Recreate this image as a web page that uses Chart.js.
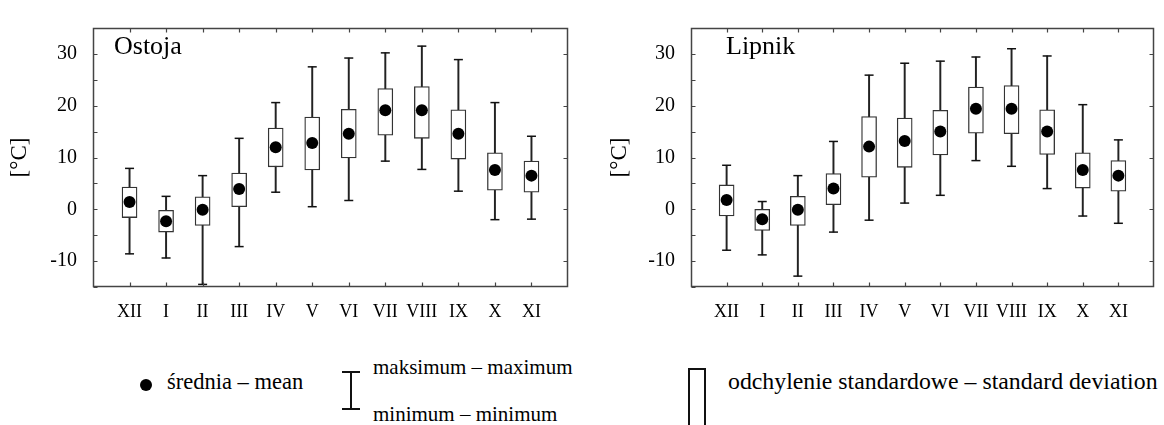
<!DOCTYPE html>
<html>
<head>
<meta charset="utf-8">
<script src="https://cdn.jsdelivr.net/npm/chart.js@4.4.1/dist/chart.umd.min.js"></script>
<style>
    html, body { margin: 0; padding: 0; background: #fff; overflow: hidden; font-family: 'Liberation Serif', serif; }
    #wrap { position: relative; width: 1164px; height: 425px; overflow: hidden; }
    .panel { position: absolute; top: 0; }
    .lg { position: absolute; font-size: 21px; line-height: 1; color: #000; white-space: nowrap; }
</style>
</head>
<body>
<div id="wrap">
    <canvas id="ostoja" class="panel" width="582" height="340" style="left:0"></canvas>
    <canvas id="lipnik" class="panel" width="586" height="340" style="left:582px"></canvas>

    <!-- legend -->
    <div style="position:absolute;left:140px;top:379px;width:12px;height:12px;border-radius:50%;background:#000"></div>
    <div class="lg" style="left:167px;top:371px;font-size:22.5px;font-family:'Liberation Serif',serif">średnia – mean</div>

    <div style="position:absolute;left:350px;top:372px;width:2px;height:37px;background:#111"></div>
    <div style="position:absolute;left:342px;top:371px;width:18px;height:2px;background:#111"></div>
    <div style="position:absolute;left:342px;top:408px;width:18px;height:2px;background:#111"></div>
    <div class="lg" style="left:373px;top:357px;font-family:'Liberation Serif',serif">maksimum – maximum</div>
    <div class="lg" style="left:373px;top:404px;font-family:'Liberation Serif',serif">minimum – minimum</div>

    <div style="position:absolute;left:688px;top:368px;width:14px;height:70px;border:2px solid #111"></div>
    <div class="lg" style="left:728px;top:370px;font-size:23.8px;font-family:'Liberation Serif',serif">odchylenie standardowe – standard deviation</div>
</div>

<script>
    'use strict';

    var months = ['XII', 'I', 'II', 'III', 'IV', 'V', 'VI', 'VII', 'VIII', 'IX', 'X', 'XI'];

    // Ostoja
    var ostojaMean = [1.4, -2.3, -0.1, 3.9, 12.0, 12.8, 14.6, 19.1, 19.1, 14.6, 7.6, 6.5];
    var ostojaSdLow = [-1.6, -4.4, -3.1, 0.5, 8.2, 7.6, 9.9, 14.3, 13.7, 9.7, 3.7, 3.3];
    var ostojaSdHigh = [4.3, -0.2, 2.4, 7.0, 15.7, 17.8, 19.3, 23.3, 23.7, 19.2, 10.9, 9.3];
    var ostojaMin = [-8.6, -9.4, -14.5, -7.2, 3.3, 0.5, 1.7, 9.3, 7.7, 3.5, -2.0, -1.9];
    var ostojaMax = [7.9, 2.5, 6.5, 13.7, 20.6, 27.5, 29.2, 30.2, 31.5, 28.9, 20.6, 14.1];

    // Lipnik
    var lipnikMean = [1.8, -1.9, -0.1, 4.0, 12.1, 13.2, 15.0, 19.4, 19.4, 15.0, 7.6, 6.5];
    var lipnikSdLow = [-1.3, -4.1, -3.1, 0.9, 6.2, 8.1, 10.5, 14.7, 14.6, 10.6, 4.1, 3.5];
    var lipnikSdHigh = [4.7, 0.0, 2.5, 6.9, 17.9, 17.6, 19.1, 23.6, 23.9, 19.2, 10.9, 9.4];
    var lipnikMin = [-7.9, -8.8, -12.9, -4.4, -2.1, 1.2, 2.7, 9.4, 8.3, 4.0, -1.3, -2.7];
    var lipnikMax = [8.5, 1.5, 6.5, 13.1, 25.9, 28.2, 28.6, 29.4, 31.0, 29.6, 20.2, 13.4];

    var yTicks = [-10, 0, 10, 20, 30];
    var serif = "'Liberation Serif', serif";

    // frame, inward tick marks and the station name
    var framePlugin = {
        id: 'frame',
        afterDatasetsDraw: function (chart, args, opts) {
            var ctx = chart.ctx, a = chart.chartArea;
            var xs = chart.scales.x, ys = chart.scales.y;
            var L = Math.round(a.left) + 0.5, R = Math.round(a.right) - 0.5;
            var T = Math.round(a.top) + 0.5, B = Math.round(a.bottom) - 0.5;
            ctx.save();
            ctx.strokeStyle = '#444';
            ctx.lineWidth = 1.5;
            ctx.strokeRect(L, T, R - L, B - T);
            ctx.lineWidth = 1.2;
            ctx.beginPath();
            for (var i = 1; i <= months.length; i++) {
                var px = Math.round(xs.getPixelForValue(i)) + 0.5;
                ctx.moveTo(px, T); ctx.lineTo(px, T + 4);
                ctx.moveTo(px, B); ctx.lineTo(px, B - 4);
            }
            for (var v = -15; v <= 35; v += 5) {
                var py = Math.round(ys.getPixelForValue(v)) + 0.5;
                ctx.moveTo(L, py); ctx.lineTo(L + 4, py);
                if (v % 10 === 0) { ctx.moveTo(R, py); ctx.lineTo(R - 4, py); }
            }
            ctx.stroke();
            ctx.fillStyle = '#000';
            ctx.font = '26px ' + serif;
            ctx.textBaseline = 'alphabetic';
            ctx.fillText(opts.text, a.left + opts.dx, 54);
            ctx.restore();
        }
    };

    function points(arr) {
        return arr.map(function (v, i) { return { x: i + 1, y: v }; });
    }
    function ranges(lo, hi) {
        return lo.map(function (v, i) { return { x: i + 1, y: [v, hi[i]] }; });
    }

    function makePanel(id, name, nameDx, mean, sdLow, sdHigh, min, max, axisWidth, titlePad, rightPad) {
        return new Chart(document.getElementById(id), {
            type: 'bar',
            data: {
                datasets: [
                    {
                        type: 'line', data: points(mean), showLine: false, order: 0,
                        pointStyle: 'circle', pointRadius: 6, pointBackgroundColor: '#000',
                        pointBorderWidth: 0
                    },
                    {
                        type: 'line', data: points(min).concat(points(max)), showLine: false, order: 1,
                        pointStyle: 'line', pointRadius: 4.5, pointBorderColor: '#111',
                        pointBorderWidth: 1.5
                    },
                    {
                        data: ranges(sdLow, sdHigh), order: 2, grouped: false, barThickness: 15,
                        backgroundColor: '#fff', borderColor: '#333', borderWidth: 1.3, borderSkipped: false
                    },
                    {
                        data: ranges(min, max), order: 3, grouped: false, barThickness: 1.3,
                        backgroundColor: '#222', borderWidth: 0
                    }
                ]
            },
            options: {
                responsive: false,
                animation: false,
                events: [],
                layout: { padding: { top: 17, right: rightPad, bottom: 0, left: 0 } },
                plugins: {
                    legend: { display: false },
                    tooltip: { enabled: false },
                    frame: { text: name, dx: nameDx }
                },
                scales: {
                    x: {
                        type: 'linear', min: 0, max: 13, offset: false,
                        grid: { display: false, drawTicks: false },
                        border: { display: false },
                        ticks: {
                            stepSize: 1, autoSkip: false, maxRotation: 0, padding: 14, color: '#000',
                            font: { family: serif, size: 18 },
                            callback: function (v) { return months[v - 1] || ''; }
                        },
                        afterFit: function (s) { s.height = 53; }
                    },
                    y: {
                        min: -15, max: 35,
                        grid: { display: false, drawTicks: false },
                        border: { display: false },
                        ticks: {
                            stepSize: 5, autoSkip: false, padding: 16, color: '#000',
                            font: { family: serif, size: 20 },
                            callback: function (v) { return yTicks.indexOf(v) >= 0 ? String(v) : ''; }
                        },
                        title: {
                            display: true, text: '[°C]', color: '#000',
                            font: { family: serif, size: 23 },
                            padding: { top: titlePad, bottom: 0 }
                        },
                        afterFit: function (s) { s.width = axisWidth; }
                    }
                }
            },
            plugins: [framePlugin]
        });
    }

    makePanel('ostoja', 'Ostoja', 21, ostojaMean, ostojaSdLow, ostojaSdHigh, ostojaMin, ostojaMax, 93, 6, 8);
    makePanel('lipnik', 'Lipnik', 35, lipnikMean, lipnikSdLow, lipnikSdHigh, lipnikMin, lipnikMax, 109, 24, 2);
</script>
</body>
</html>
